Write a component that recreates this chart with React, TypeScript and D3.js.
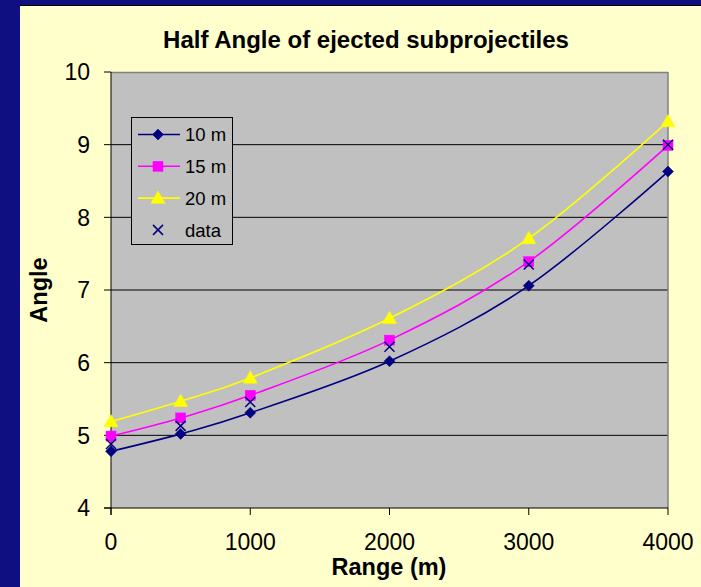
import React from "react";
import * as d3 from "d3";

// Range (m) at which the half angle was evaluated
const ranges = [0, 500, 1000, 2000, 3000, 4000];

// Half angle (degrees) for each standoff distance
const angle10m = [4.78, 5.02, 5.31, 6.02, 7.06, 8.63];
const angle15m = [4.99, 5.24, 5.55, 6.31, 7.39, 8.99];
const angle20m = [5.19, 5.47, 5.79, 6.61, 7.71, 9.32];
// Measured values
const angleData = [4.88, 5.13, 5.46, 6.22, 7.35, 9.0];

const xTicks = [0, 1000, 2000, 3000, 4000];
const yTicks = [4, 5, 6, 7, 8, 9, 10];

const W = 701;
const H = 587;
const plot = { left: 111, right: 668, top: 72, bottom: 508 };

const NAVY = "#000080";
const MAGENTA = "#FF00FF";
const YELLOW = "#FFFF00";
const FONT = "Arial, 'Liberation Sans', Helvetica, sans-serif";

const x = d3.scaleLinear().domain([0, 4000]).range([plot.left, plot.right]);
const y = d3.scaleLinear().domain([4, 10]).range([plot.bottom, plot.top]);

const line = d3
  .line<[number, number]>()
  .x((d) => x(d[0]))
  .y((d) => y(d[1]))
  .curve(d3.curveCatmullRom.alpha(0));

const diamond = (cx: number, cy: number, r = 5.5) =>
  `M${cx},${cy - r}L${cx + r},${cy}L${cx},${cy + r}L${cx - r},${cy}Z`;
const triangle = (cx: number, cy: number, r = 7) =>
  `M${cx},${cy - r}L${cx + r},${cy + r * 0.75}L${cx - r},${cy + r * 0.75}Z`;
const cross = (cx: number, cy: number, r = 5) =>
  `M${cx - r},${cy - r}L${cx + r},${cy + r}M${cx - r},${cy + r}L${cx + r},${cy - r}`;

function Marker({ kind, cx, cy }: { kind: string; cx: number; cy: number }) {
  if (kind === "diamond") return <path d={diamond(cx, cy)} fill={NAVY} stroke={NAVY} strokeWidth={0.5} />;
  if (kind === "square")
    return <rect x={cx - 5} y={cy - 5} width={10} height={10} fill={MAGENTA} stroke={MAGENTA} strokeWidth={0.5} />;
  if (kind === "triangle") return <path d={triangle(cx, cy)} fill={YELLOW} stroke={YELLOW} strokeWidth={0.5} />;
  return <path d={cross(cx, cy)} fill="none" stroke={NAVY} strokeWidth={1.5} />;
}

const series = [
  { name: "10 m", values: angle10m, color: NAVY, marker: "diamond" },
  { name: "15 m", values: angle15m, color: MAGENTA, marker: "square" },
  { name: "20 m", values: angle20m, color: YELLOW, marker: "triangle" },
];

export default function App() {
  const legendRows = [
    { label: "10 m", color: NAVY, marker: "diamond", line: true },
    { label: "15 m", color: MAGENTA, marker: "square", line: true },
    { label: "20 m", color: YELLOW, marker: "triangle", line: true },
    { label: "data", color: NAVY, marker: "cross", line: false },
  ];
  return (
    <svg
      width={W}
      height={H}
      style={{ position: "absolute", left: 0, top: 0, display: "block" }}
      fontFamily={FONT}
    >
      <rect x={0} y={0} width={W} height={H} fill="#100F82" />
      <rect x={20} y={6} width={W - 20} height={H - 6} fill="#FFFFCC" />
      <line x1={20} x2={W} y1={5.5} y2={5.5} stroke="#000000" strokeWidth={1} />

      <text x={366} y={48} textAnchor="middle" fontSize={24} fontWeight="bold" fill="#000">
        Half Angle of ejected subprojectiles
      </text>

      {/* plot area */}
      <rect
        x={plot.left}
        y={plot.top}
        width={plot.right - plot.left}
        height={plot.bottom - plot.top}
        fill="#C0C0C0"
      />
      {yTicks
        .filter((t) => t !== 4 && t !== 10)
        .map((t) => (
          <line key={t} x1={plot.left} x2={plot.right} y1={y(t)} y2={y(t)} stroke="#000" strokeWidth={1} />
        ))}
      <line x1={plot.left} x2={plot.right} y1={plot.top + 0.5} y2={plot.top + 0.5} stroke="#808080" strokeWidth={1.5} />
      <line x1={plot.right} x2={plot.right} y1={plot.top} y2={plot.bottom} stroke="#808080" strokeWidth={1.5} />
      <line x1={plot.left} x2={plot.left} y1={plot.top} y2={plot.bottom + 7} stroke="#000" strokeWidth={1} />
      <line x1={plot.left - 7} x2={plot.right} y1={plot.bottom} y2={plot.bottom} stroke="#000" strokeWidth={1} />

      {/* y axis */}
      {yTicks.map((t) => (
        <g key={t}>
          <line x1={plot.left - 7} x2={plot.left} y1={y(t)} y2={y(t)} stroke="#000" />
          <text x={plot.left - 21} y={y(t)} dy="0.36em" textAnchor="end" fontSize={23} fill="#000">
            {t}
          </text>
        </g>
      ))}
      {/* x axis */}
      {xTicks.map((t) => (
        <g key={t}>
          <line x1={x(t)} x2={x(t)} y1={plot.bottom} y2={plot.bottom + 7} stroke="#000" />
          <text x={x(t)} y={550} textAnchor="middle" fontSize={23} fill="#000">
            {t}
          </text>
        </g>
      ))}
      <text x={389} y={575} textAnchor="middle" fontSize={23.5} fontWeight="bold" fill="#000">
        Range (m)
      </text>
      <text
        transform={`translate(46.5, 290) rotate(-90)`}
        textAnchor="middle"
        fontSize={23.5}
        fontWeight="bold"
        fill="#000"
      >
        Angle
      </text>

      {/* series */}
      {series.map((s) => (
        <g key={s.name}>
          <path
            d={line(ranges.map((r, i) => [r, s.values[i]] as [number, number])) ?? ""}
            fill="none"
            stroke={s.color}
            strokeWidth={1.6}
          />
        </g>
      ))}
      {series.map((s) => (
        <g key={s.name + "m"}>
          {ranges.map((r, i) => (
            <Marker key={r} kind={s.marker} cx={x(r)} cy={y(s.values[i])} />
          ))}
        </g>
      ))}
      {ranges.map((r, i) => (
        <Marker key={"d" + r} kind="cross" cx={x(r)} cy={y(angleData[i])} />
      ))}

      {/* legend */}
      <rect x={131.5} y={117.5} width={101} height={127} fill="#C0C0C0" stroke="#000" strokeWidth={1} />
      {legendRows.map((row, i) => {
        const cy = 134.5 + i * 31.8;
        return (
          <g key={row.label}>
            {row.line && <line x1={138} x2={180} y1={cy} y2={cy} stroke={row.color} strokeWidth={1.6} />}
            <Marker kind={row.marker} cx={158} cy={cy} />
            <text x={185} y={cy} dy="0.36em" fontSize={18.5} fill="#000">
              {row.label}
            </text>
          </g>
        );
      })}
    </svg>
  );
}
